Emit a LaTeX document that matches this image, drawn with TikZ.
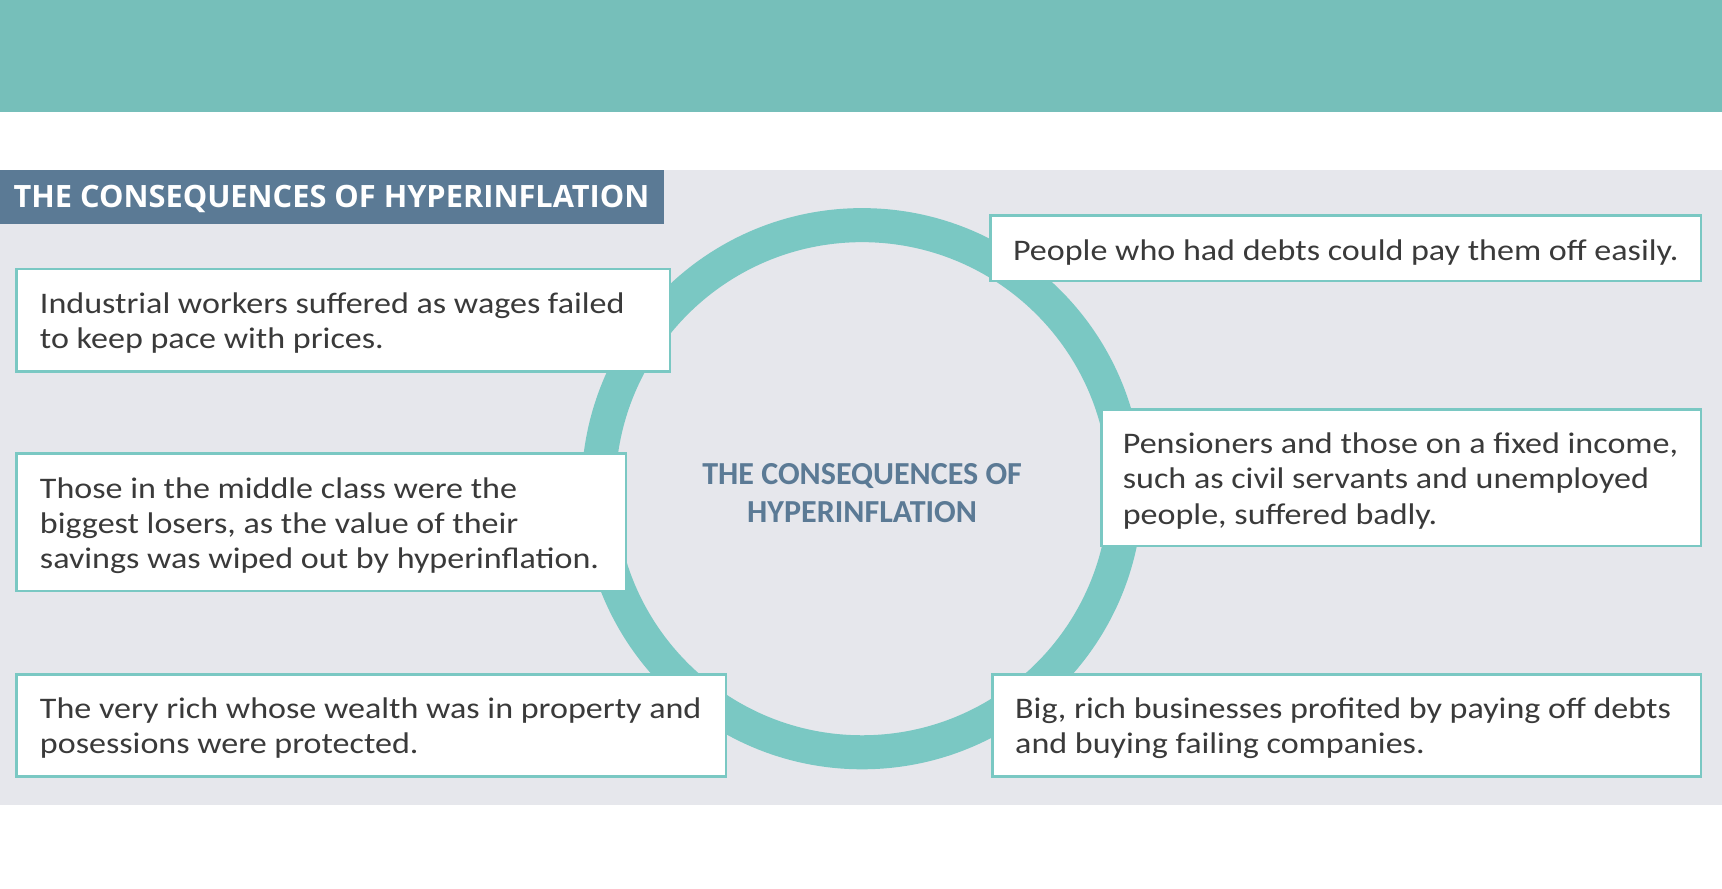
\documentclass[tikz,border=0pt]{standalone}
\usepackage{fontspec}
\setmainfont{Carlito}[FakeStretch=1.14]
\newfontfamily\centerfont{Carlito}
\newfontfamily\titlefont{Open Sans}
\definecolor{tealbar}{HTML}{76BFBA}
\definecolor{ringc}{HTML}{7AC8C3}
\definecolor{bandc}{HTML}{E6E7EC}
\definecolor{slate}{HTML}{5B7A95}
\definecolor{txt}{HTML}{3A3A3A}
\begin{document}
\begin{tikzpicture}[x=0.5pt,y=-0.5pt,
  box/.style={draw=ringc,line width=1.2pt,fill=white},
  btxt/.style={anchor=west,align=left,text=txt,font=\fontsize{13.6}{16}\selectfont,inner sep=0pt}]
\useasboundingbox (0,0) rectangle (1568,808.6);
\fill[white] (0,0) rectangle (1568,808.6);
\fill[tealbar] (0,0) rectangle (1568,102);
\fill[bandc] (0,155) rectangle (1568,733);
\fill[slate] (0,155) rectangle (605,204);
\node[anchor=west,text=white,font=\titlefont\bfseries\fontsize{14}{16}\selectfont,inner sep=0pt] (title) at (12,181) {THE CONSEQUENCES OF HYPERINFLATION};
\draw[ringc,line width=15.5pt] (785,445) circle[radius=240];
\node[align=center,text=slate,font=\centerfont\bfseries\fontsize{14.6}{17}\selectfont] (center) at (785,449) {THE CONSEQUENCES OF\\HYPERINFLATION};
\draw[box] (15,245) rectangle (610,338);
\node[btxt] (b1) at (36,294) {Industrial workers suffered as wages failed\\to keep pace with prices.};
\draw[box] (15,413) rectangle (570,538);
\node[btxt] (b2) at (36,479) {Those in the middle class were the\\biggest losers, as the value of their\\savings was wiped out by hyperinflation.};
\draw[box] (15,614) rectangle (661,707);
\node[btxt] (b3) at (36,663) {The very rich whose wealth was in property and\\posessions were protected.};
\draw[box] (902,196) rectangle (1549,256);
\node[btxt] (b4) at (922,230) {People who had debts could pay them off easily.};
\draw[box] (1003,373) rectangle (1549,497);
\node[btxt] (b5) at (1022,438) {Pensioners and those on a fixed income,\\such as civil servants and unemployed\\people, suffered badly.};
\draw[box] (904,614) rectangle (1549,707);
\node[btxt] (b6) at (924,663) {Big, rich businesses profited by paying off debts\\and buying failing companies.};
\end{tikzpicture}
\end{document}
